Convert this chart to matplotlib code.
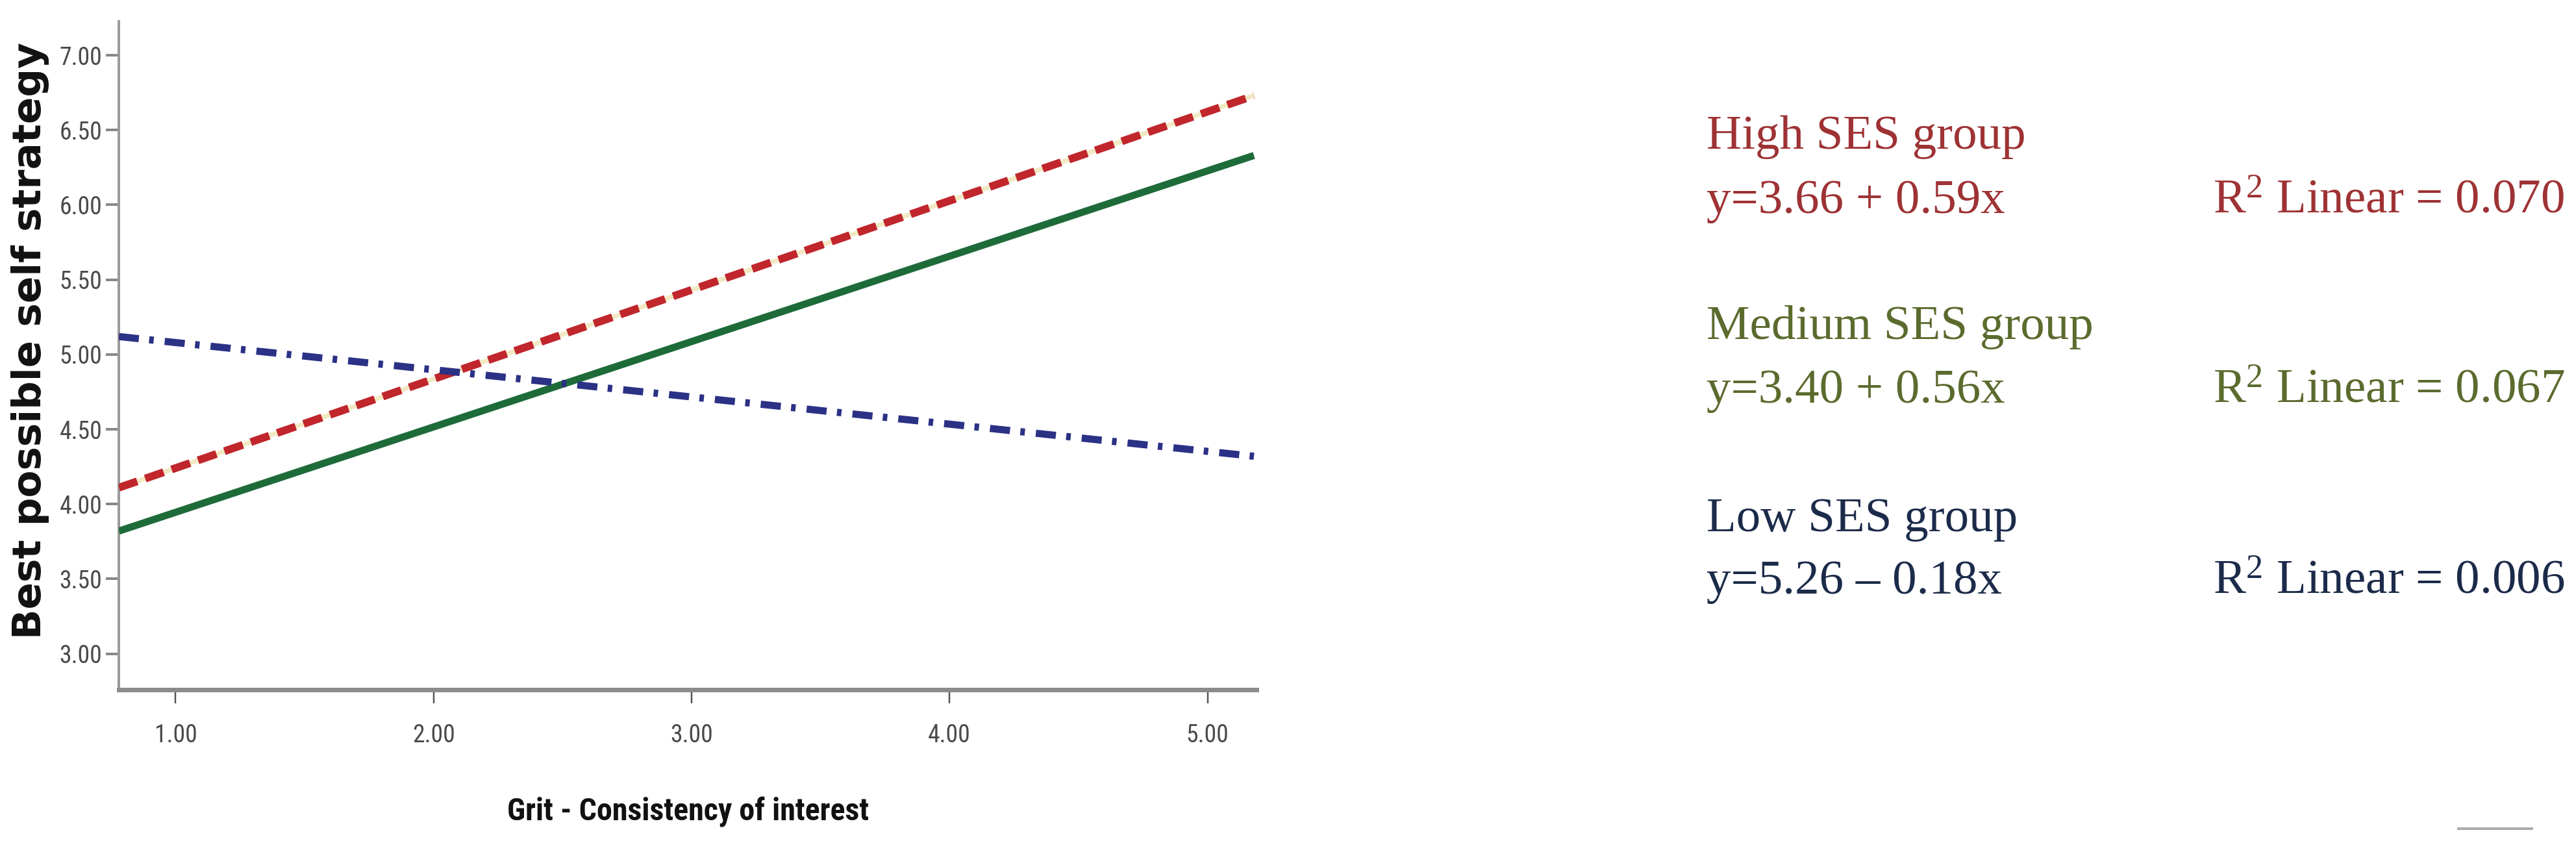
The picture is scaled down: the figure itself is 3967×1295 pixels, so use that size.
import matplotlib
matplotlib.use("Agg")
import matplotlib.pyplot as plt
from matplotlib.lines import Line2D
from matplotlib import font_manager as fm

# ---- data ----
x_ends = [0.78, 5.18]
high_ses = [4.11, 6.73]
medium_ses = [3.82, 6.33]
low_ses = [5.12, 4.32]

x_ticks = [1.0, 2.0, 3.0, 4.0, 5.0]
x_ticklabels = ["1.00", "2.00", "3.00", "4.00", "5.00"]
y_ticks = [3.0, 3.5, 4.0, 4.5, 5.0, 5.5, 6.0, 6.5, 7.0]
y_ticklabels = ["3.00", "3.50", "4.00", "4.50", "5.00", "5.50", "6.00", "6.50", "7.00"]

group_names = ["High SES group", "Medium SES group", "Low SES group"]
equations = ["y=3.66 + 0.59x", "y=3.40 + 0.56x", "y=5.26 \u2013 0.18x"]
r2_values = ["0.070", "0.067", "0.006"]

x_label = "Grit - Consistency of interest"
y_label = "Best possible self strategy"

# ---- pick a narrow sans font if one is installed ----
def narrow_font(bold=False):
    prefs = ['Liberation Sans Narrow', 'Arial Narrow', 'Roboto Condensed', 'DejaVu Sans Condensed',
             'Open Sans Condensed', 'Noto Sans Condensed']
    cands = []
    for f in fm.fontManager.ttflist:
        w = f.weight if isinstance(f.weight, int) else (700 if 'bold' in str(f.weight).lower() else 400)
        isbold = w >= 600
        if isbold != bold or f.style != 'normal':
            continue
        name = f.name
        cond = ('Narrow' in name or 'Condensed' in name or 'condensed' in str(f.stretch)
                or 'Condensed' in f.fname or 'Narrow' in f.fname)
        if not cond:
            continue
        rank = len(prefs)
        for i, p in enumerate(prefs):
            if p.lower() in (name + ' ' + f.fname).lower().replace('-', ' ').replace('_', ' '):
                rank = i
                break
        cands.append((rank, f.fname))
    if cands:
        cands.sort()
        return fm.FontProperties(fname=cands[0][1])
    fam = 'Liberation Sans' if 'Liberation Sans' in {f.name for f in fm.fontManager.ttflist} else 'DejaVu Sans'
    return fm.FontProperties(family=fam, weight='bold' if bold else 'normal')

tick_fp = narrow_font(False)
label_fp = narrow_font(True)

# ---- style ----
plt.rcParams['lines.scale_dashes'] = False
plt.rcParams['mathtext.fontset'] = 'custom'
plt.rcParams['mathtext.rm'] = 'Liberation Serif'
plt.rcParams['mathtext.it'] = 'Liberation Serif:italic'

W, H, DPI = 3967, 1295, 100
fig = plt.figure(figsize=(W / DPI, H / DPI), dpi=DPI)
px2pt = 72.0 / DPI
renderer = fig.canvas.get_renderer()

def fit_size(text, fp, target_w, max_pt):
    t = fig.text(0, 0, text, fontproperties=fp, fontsize=20)
    w = t.get_window_extent(renderer).width
    t.remove()
    return min(max_pt, 20 * target_w / w)

tick_pt = fit_size("7.00", tick_fp, 66, 32)
xlab_pt = fit_size(x_label, label_fp, 555, 40)

ax_left, ax_right, ax_top, ax_bottom = 183, 1935, 33, 1062
ax = fig.add_axes([ax_left / W, 1 - ax_bottom / H, (ax_right - ax_left) / W, (ax_bottom - ax_top) / H])
ax.set_xlim(0.78, 5.19)
ax.set_ylim(2.76, 7.226)

red = '#C0262C'
green = '#1E6B3A'
navy = '#2B3185'

# high SES: red dashes over a pale cream core
ax.plot(x_ends, high_ses, color='#F2E9C4', lw=7 * px2pt, solid_capstyle='butt', zorder=3)
l_high, = ax.plot(x_ends, high_ses, color=red, lw=12 * px2pt, dash_capstyle='butt', zorder=4)
l_high.set_dashes((30 * px2pt, 13 * px2pt))

# medium SES: solid green
ax.plot(x_ends, medium_ses, color=green, lw=11 * px2pt, solid_capstyle='butt', zorder=4)

# low SES: navy dash-dot
l_low, = ax.plot(x_ends, low_ses, color=navy, lw=11 * px2pt, dash_capstyle='butt', zorder=4)
l_low.set_dashes((31 * px2pt, 16 * px2pt, 7 * px2pt, 17 * px2pt))

# spines
for s in ['top', 'right']:
    ax.spines[s].set_visible(False)
ax.spines['left'].set_color('#9a9a9a')
ax.spines['left'].set_linewidth(4 * px2pt)
ax.spines['bottom'].set_color('#8c8c8c')
ax.spines['bottom'].set_linewidth(7 * px2pt)

ax.set_xticks(x_ticks)
ax.set_xticklabels(x_ticklabels)
ax.set_yticks(y_ticks)
ax.set_yticklabels(y_ticklabels)
for lab in ax.get_xticklabels() + ax.get_yticklabels():
    lab.set_fontproperties(tick_fp)
    lab.set_fontsize(tick_pt)
    lab.set_color('#4a4a4a')
ax.tick_params(axis='x', direction='out', length=21 * px2pt, width=2.5 * px2pt, color='#555555', pad=22)
ax.tick_params(axis='y', direction='out', length=20 * px2pt, width=4 * px2pt, color='#888888', pad=4)

# axis labels
fig.text(1060 / W, 1 - 1250 / H, x_label, fontproperties=label_fp, fontsize=xlab_pt,
         color='#111111', ha='center', va='center')
fig.text(47 / W, 1 - 524 / H, y_label, family=['DejaVu Sans'], fontweight='bold', fontsize=44,
         color='#111111', ha='center', va='center', rotation=90)

# right-side annotations
text_colors = ['#9E3234', '#5B6B2E', '#1C2B4A']
name_baselines = [229, 522, 818]
eq_baselines = [328, 620, 914]
for name, eq, r2, c, nb, eb in zip(group_names, equations, r2_values, text_colors, name_baselines, eq_baselines):
    fig.text(2628 / W, 1 - nb / H, name, family=['Liberation Serif', 'DejaVu Serif'], fontsize=54,
             color=c, ha='left', va='baseline')
    fig.text(2628 / W, 1 - eb / H, eq, family=['Liberation Serif', 'DejaVu Serif'], fontsize=54,
             color=c, ha='left', va='baseline')
    fig.text(3408 / W, 1 - eb / H, r'R$^{2}$ Linear = ' + r2, family=['Liberation Serif', 'DejaVu Serif'],
             fontsize=54, color=c, ha='left', va='baseline')

# small grey mark at the bottom right
fig.add_artist(Line2D([3786 / W, 3899 / W], [1 - 1276 / H, 1 - 1276 / H], transform=fig.transFigure,
                      color='#aaaaaa', lw=4 * px2pt))

fig.savefig('out.png', dpi=DPI, facecolor='white')
